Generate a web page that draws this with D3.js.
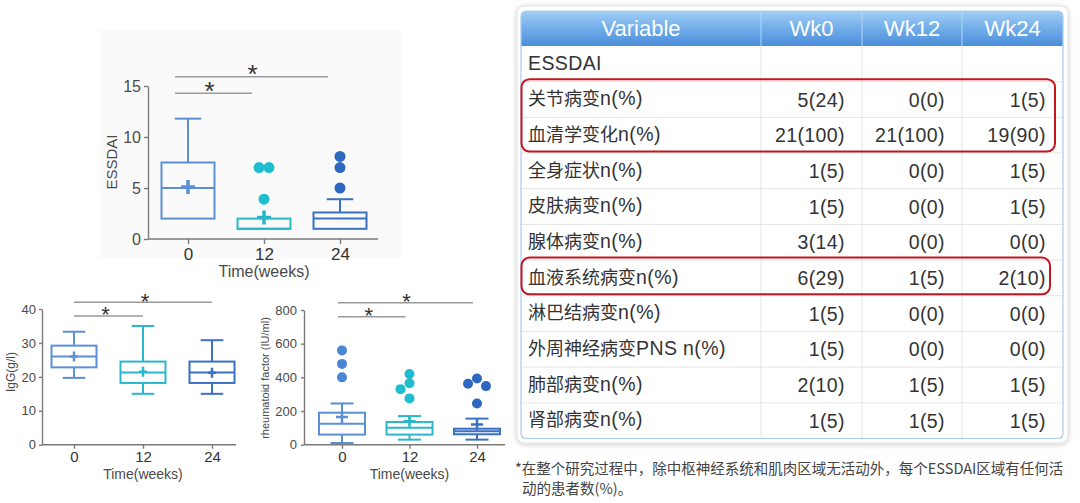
<!DOCTYPE html>
<html>
<head>
<meta charset="utf-8">
<script src="https://cdn.jsdelivr.net/npm/d3@7"></script>
<style>
html,body{margin:0;padding:0;background:#fff;}
svg{display:block;font-family:"Liberation Sans",Arial,"Noto Sans CJK SC",sans-serif;}
</style>
</head>
<body>
<svg id="c" width="1080" height="503"></svg>
<script>
// ---------------- DATA ----------------
const categories = ["0", "12", "24"];

// ESSDAI box stats
const essdaiMin = [2, 1, 1];
const essdaiQ1 = [2, 1, 1];
const essdaiMedian = [5, 1, 2];
const essdaiQ3 = [7.5, 2, 2.6];
const essdaiMax = [11.8, 2, 3.9];
const essdaiMean = [5.1, 2.1, null];
const essdaiOutliers = [[], [7, 7, 3.9], [8.1, 7, 5]];
const essdaiTicks = [0, 5, 10, 15];

// IgG box stats
const iggMin = [19.7, 15, 15];
const iggQ1 = [22.8, 18.2, 18.2];
const iggMedian = [26, 21.3, 21.3];
const iggQ3 = [29.2, 24.5, 24.5];
const iggMax = [33.3, 35, 30.8];
const iggMean = [26, 21.5, 21.2];
const iggOutliers = [[], [], []];
const iggTicks = [0, 10, 20, 30, 40];

// Rheumatoid factor box stats
const rfMin = [10, 30, 30];
const rfQ1 = [60, 60, 62];
const rfMedian = [125, 100, 80];
const rfQ3 = [190, 135, 95];
const rfMax = [245, 170, 155];
const rfMean = [165, 140, 120];
const rfOutliers = [[560, 480, 400], [420, 365, 330, 275], [393, 362, 348, 245]];
const rfTicks = [0, 200, 400, 600, 800];

// significance comparisons (from category, to category)
const sigPairs = [["0", "12"], ["0", "24"]];

// Table
const tableHeader = ["Variable", "Wk0", "Wk12", "Wk24"];
const rowLabels = ["ESSDAI", "关节病变n(%)", "血清学变化n(%)", "全身症状n(%)", "皮肤病变n(%)", "腺体病变n(%)",
  "血液系统病变n(%)", "淋巴结病变n(%)", "外周神经病变PNS n(%)", "肺部病变n(%)", "肾部病变n(%)"];
const wk0Values = ["", "5(24)", "21(100)", "1(5)", "1(5)", "3(14)", "6(29)", "1(5)", "1(5)", "2(10)", "1(5)"];
const wk12Values = ["", "0(0)", "21(100)", "0(0)", "0(0)", "0(0)", "1(5)", "0(0)", "0(0)", "1(5)", "1(5)"];
const wk24Values = ["", "1(5)", "19(90)", "1(5)", "1(5)", "0(0)", "2(10)", "0(0)", "0(0)", "1(5)", "1(5)"];
const highlightGroups = [[1, 2], [6]];
const footnoteLines = ["*在整个研究过程中，除中枢神经系统和肌肉区域无活动外，每个ESSDAI区域有任何活", "动的患者数(%)。"];

// ---------------- DRAW ----------------
const svg = d3.select("#c");
const boxColors = ["#5b8fd6", "#2bb7cb", "#3b71c3"];
const dotColors = ["#4a86d4", "#1fbdd0", "#2c67c0"];
const axisColor = "#7a7a7a";
const labelColor = "#4a4a4a";

// faint panel behind the top chart
svg.append("rect").attr("x", 100).attr("y", 30).attr("width", 302).attr("height", 228).attr("fill", "#fafafa");

function boxChart(o) {
  const g = svg.append("g");
  const x = d3.scalePoint().domain(categories).range(o.xr);
  const y = d3.scaleLinear().domain([o.ticks[0], o.ticks[o.ticks.length - 1]]).range(o.yr);
  const stats = categories.map((c, i) => ({
    c, i, min: o.min[i], q1: o.q1[i], med: o.median[i], q3: o.q3[i], max: o.max[i], mean: o.mean[i], out: o.outliers[i]
  }));

  // y axis
  const ya = g.append("g").attr("transform", `translate(${o.axisX},0)`)
    .call(d3.axisLeft(y).tickValues(o.ticks).tickSize(o.tickLen).tickSizeOuter(0).tickPadding(o.tickPad).tickFormat(d3.format("d")));
  ya.select(".domain").attr("stroke", axisColor).attr("stroke-width", 1.4);
  ya.selectAll(".tick line").attr("stroke", axisColor).attr("stroke-width", 1.4);
  ya.selectAll(".tick text").attr("fill", labelColor).style("font-size", o.yFont + "px").style("font-family", "Liberation Sans, Arial, sans-serif");

  // x axis
  const xa = g.append("g").attr("transform", `translate(0,${y(0)})`)
    .call(d3.axisBottom(x).tickSize(o.tickLen + 1).tickSizeOuter(0).tickPadding(o.xPad));
  xa.select(".domain").attr("d", `M${o.axisX},0H${o.axisEnd}`).attr("stroke", axisColor).attr("stroke-width", 1.4);
  xa.selectAll(".tick line").attr("stroke", axisColor).attr("stroke-width", 1.4);
  xa.selectAll(".tick text").attr("fill", "#333").style("font-size", o.xFont + "px").style("font-family", "Liberation Sans, Arial, sans-serif");

  // titles
  g.append("text").attr("x", (x(categories[0]) + x(categories[2])) / 2).attr("y", o.xTitleY)
    .attr("text-anchor", "middle").attr("fill", labelColor).style("font-size", o.xTitleFont + "px").text("Time(weeks)");
  g.append("text").attr("transform", `translate(${o.yTitleX},${o.yTitleY}) rotate(-90)`)
    .attr("text-anchor", "middle").attr("fill", labelColor).style("font-size", o.yTitleFont + "px").text(o.yTitle);

  const bw = o.boxW;
  const sw = o.stroke;
  const b = g.selectAll("g.box").data(stats).join("g").attr("class", "box");
  // whiskers
  b.append("line").attr("x1", d => x(d.c)).attr("x2", d => x(d.c)).attr("y1", d => y(d.q3)).attr("y2", d => y(d.max))
    .attr("stroke", d => boxColors[d.i]).attr("stroke-width", sw);
  b.append("line").attr("x1", d => x(d.c)).attr("x2", d => x(d.c)).attr("y1", d => y(d.q1)).attr("y2", d => y(d.min))
    .attr("stroke", d => boxColors[d.i]).attr("stroke-width", sw);
  // caps
  b.filter(d => d.max > d.q3).append("line").attr("x1", d => x(d.c) - bw / 4).attr("x2", d => x(d.c) + bw / 4)
    .attr("y1", d => y(d.max)).attr("y2", d => y(d.max)).attr("stroke", d => boxColors[d.i]).attr("stroke-width", sw);
  b.filter(d => d.min < d.q1).append("line").attr("x1", d => x(d.c) - bw / 4).attr("x2", d => x(d.c) + bw / 4)
    .attr("y1", d => y(d.min)).attr("y2", d => y(d.min)).attr("stroke", d => boxColors[d.i]).attr("stroke-width", sw);
  // box
  b.append("rect").attr("x", d => x(d.c) - bw / 2).attr("width", bw)
    .attr("y", d => y(d.q3)).attr("height", d => y(d.q1) - y(d.q3))
    .attr("fill", "none").attr("stroke", d => boxColors[d.i]).attr("stroke-width", sw);
  // median
  b.append("line").attr("x1", d => x(d.c) - bw / 2).attr("x2", d => x(d.c) + bw / 2)
    .attr("y1", d => y(d.med)).attr("y2", d => y(d.med)).attr("stroke", d => boxColors[d.i]).attr("stroke-width", sw);
  // mean plus
  b.filter(d => d.mean != null).append("path")
    .attr("d", d => `M${x(d.c) - o.plusW},${y(d.mean)}H${x(d.c) + o.plusW}M${x(d.c)},${y(d.mean) - o.plusH}V${y(d.mean) + o.plusH}`)
    .attr("stroke", d => boxColors[d.i]).attr("stroke-width", o.plusStroke).attr("fill", "none");

  // outliers: simple beeswarm placement
  stats.forEach(d => {
    const pts = d.out.map(v => ({ v, py: y(v), off: 0 })).sort((a, b) => a.py - b.py);
    const placed = [];
    const step = o.r * 1.8, minD = o.r * 1.75;
    pts.forEach(p => {
      const cands = [0, -step, step, -2 * step, 2 * step];
      for (const c of cands) {
        if (placed.every(q => Math.hypot(q.off - c, q.py - p.py) >= minD)) { p.off = c; break; }
      }
      placed.push(p);
    });
    // centre groups of identical values
    d3.groups(placed, p => p.v).forEach(([, grp]) => {
      if (grp.length > 1) {
        const m = d3.mean(grp, p => p.off);
        grp.forEach(p => p.off -= m);
      }
    });
    placed.forEach(p => {
      g.append("circle").attr("cx", x(d.c) + p.off).attr("cy", p.py).attr("r", o.r).attr("fill", dotColors[d.i]);
    });
  });

  // significance bars
  sigPairs.forEach((pr, k) => {
    const by = o.sigY[k];
    const x1 = x(pr[0]) + o.sigOff[0];
    const x2 = x(pr[1]) + o.sigOff[1];
    g.append("line").attr("x1", x1).attr("x2", x2).attr("y1", by).attr("y2", by)
      .attr("stroke", "#9a9a9a").attr("stroke-width", 1.5);
    g.append("text").attr("x", (x1 + x2) / 2 + o.starDx[k]).attr("y", by - o.starGap + o.starFont * 0.56)
      .attr("text-anchor", "middle").attr("fill", "#333").style("font-size", o.starFont + "px").text("*");
  });
}

boxChart({
  min: essdaiMin, q1: essdaiQ1, median: essdaiMedian, q3: essdaiQ3, max: essdaiMax, mean: essdaiMean, outliers: essdaiOutliers,
  ticks: essdaiTicks, xr: [188, 340], yr: [239, 86], axisX: 148, axisEnd: 378, tickLen: 4, tickPad: 3, xPad: 4,
  yFont: 16, xFont: 17, xTitleY: 277, xTitleFont: 16, yTitle: "ESSDAI", yTitleX: 117, yTitleY: 162, yTitleFont: 15,
  boxW: 53, stroke: 2, plusW: 7, plusH: 7, plusStroke: 3.5, r: 5.5,
  sigY: [93.3, 76.7], sigOff: [-13, -12], starDx: [-4, 1], starGap: 8, starFont: 26
});

boxChart({
  min: iggMin, q1: iggQ1, median: iggMedian, q3: iggQ3, max: iggMax, mean: iggMean, outliers: iggOutliers,
  ticks: iggTicks, xr: [74, 212], yr: [444.7, 309], axisX: 42, axisEnd: 236, tickLen: 3, tickPad: 3, xPad: 3,
  yFont: 13, xFont: 15, xTitleY: 479, xTitleFont: 14, yTitle: "IgG(g/l)", yTitleX: 15, yTitleY: 372, yTitleFont: 12,
  boxW: 45, stroke: 2, plusW: 4, plusH: 5, plusStroke: 2.5, r: 5,
  sigY: [316, 302.3], sigOff: [0, 0], starDx: [-3, 2], starGap: 6, starFont: 22
});

boxChart({
  min: rfMin, q1: rfQ1, median: rfMedian, q3: rfQ3, max: rfMax, mean: rfMean, outliers: rfOutliers,
  ticks: rfTicks, xr: [342, 477], yr: [444.7, 310], axisX: 304, axisEnd: 505, tickLen: 3, tickPad: 4, xPad: 3,
  yFont: 13, xFont: 15, xTitleY: 479, xTitleFont: 14, yTitle: "rheumatoid factor (IU/ml)", yTitleX: 269, yTitleY: 378, yTitleFont: 11,
  boxW: 46, stroke: 2, plusW: 6, plusH: 6, plusStroke: 2.5, r: 5,
  sigY: [316.7, 302.7], sigOff: [-4, -4], starDx: [-3, 1], starGap: 6.5, starFont: 22
});

// ---------------- TABLE ----------------
const defs = svg.append("defs");
const f = defs.append("filter").attr("id", "sh").attr("x", "-5%").attr("y", "-5%").attr("width", "110%").attr("height", "110%");
f.append("feDropShadow").attr("dx", 0).attr("dy", 1).attr("stdDeviation", 2.5).attr("flood-color", "#000").attr("flood-opacity", 0.22);
const gr = defs.append("linearGradient").attr("id", "hg").attr("x1", 0).attr("x2", 0).attr("y1", 0).attr("y2", 1);
gr.append("stop").attr("offset", "0%").attr("stop-color", "#a2cff5");
gr.append("stop").attr("offset", "55%").attr("stop-color", "#6daae8");
gr.append("stop").attr("offset", "100%").attr("stop-color", "#4b8dda");

const colEdges = [521, 761, 862, 962, 1063];
const tTop = 11, headBottom = 46, tBottom = 438.5;
const rowScale = d3.scaleBand().domain(d3.range(rowLabels.length)).range([headBottom, tBottom]);
const tg = svg.append("g");

tg.append("rect").attr("x", 517).attr("y", 6).attr("width", 551).attr("height", 437).attr("rx", 7)
  .attr("fill", "#fff").attr("stroke", "#e2e2e2").attr("filter", "url(#sh)");

// header
const L = colEdges[0], R = colEdges[4], rr = 5;
tg.append("path").attr("d", `M${L},${headBottom}V${tTop + rr}Q${L},${tTop} ${L + rr},${tTop}H${R - rr}Q${R},${tTop} ${R},${tTop + rr}V${headBottom}Z`)
  .attr("fill", "url(#hg)");
tg.selectAll("text.hd").data(tableHeader).join("text").attr("class", "hd")
  .attr("x", (d, i) => (colEdges[i] + colEdges[i + 1]) / 2).attr("y", (tTop + headBottom) / 2).attr("dy", "0.36em")
  .attr("text-anchor", "middle").attr("fill", "#fff").style("font-size", "22px").text(d => d);
// header separators
tg.selectAll("line.hs").data(colEdges.slice(1, 4)).join("line").attr("class", "hs")
  .attr("x1", d => d).attr("x2", d => d).attr("y1", tTop).attr("y2", headBottom).attr("stroke", "#b8d7f4").attr("stroke-width", 1);

// body grid
tg.selectAll("line.rl").data(d3.range(1, rowLabels.length)).join("line").attr("class", "rl")
  .attr("x1", L).attr("x2", R).attr("y1", d => rowScale(d)).attr("y2", d => rowScale(d))
  .attr("stroke", "#e4e4e4").attr("stroke-width", 1);
tg.selectAll("line.cl").data(colEdges.slice(1, 4)).join("line").attr("class", "cl")
  .attr("x1", d => d).attr("x2", d => d).attr("y1", headBottom).attr("y2", tBottom)
  .attr("stroke", "#e4e4e4").attr("stroke-width", 1);

// border
tg.append("rect").attr("x", L).attr("y", tTop).attr("width", R - L).attr("height", tBottom - tTop).attr("rx", rr)
  .attr("fill", "none").attr("stroke", "#a9cbee").attr("stroke-width", 1.2);

// row labels with CJK/latin runs
const cellColor = "#333";
rowLabels.forEach((lab, i) => {
  const t = tg.append("text").attr("x", 528).attr("y", rowScale(i) + rowScale.bandwidth() / 2).attr("dy", "0.36em").attr("fill", cellColor);
  lab.split(/([\u4e00-\u9fff]+)/).filter(s => s.length).forEach(s => {
    const cjk = /[\u4e00-\u9fff]/.test(s);
    t.append("tspan").text(s)
      .style("font-family", cjk ? "'Noto Sans CJK SC', sans-serif" : "'Liberation Sans', Arial, sans-serif")
      .style("font-size", cjk ? "18px" : "19.5px")
      .style("letter-spacing", cjk ? "0px" : "0.4px");
  });
});
[wk0Values, wk12Values, wk24Values].forEach((vals, c) => {
  tg.selectAll(null).data(vals).join("text")
    .attr("x", colEdges[c + 2] - 17).attr("y", (d, i) => rowScale(i) + rowScale.bandwidth() / 2).attr("dy", "0.36em")
    .attr("text-anchor", "end").attr("fill", cellColor).style("font-size", "19.5px").style("letter-spacing", "0.4px").text(d => d);
});

// red highlight boxes
const hlRight = [1055, 1050];
highlightGroups.forEach((grp, k) => {
  const y1 = rowScale(grp[0]) - 2.5, y2 = rowScale(grp[grp.length - 1]) + rowScale.bandwidth() - 1.5;
  tg.append("rect").attr("x", 521.5).attr("y", y1).attr("width", hlRight[k] - 521.5).attr("height", y2 - y1).attr("rx", 8)
    .attr("fill", "none").attr("stroke", "#c3161f").attr("stroke-width", 2);
});

// footnote
svg.selectAll("text.fn").data(footnoteLines).join("text").attr("class", "fn")
  .attr("x", (d, i) => i === 0 ? 515 : 522).attr("y", (d, i) => 474 + i * 20)
  .attr("fill", "#444").style("font-size", "14.5px").style("font-family", "'Noto Sans CJK SC', sans-serif").text(d => d);
</script>
</body>
</html>
